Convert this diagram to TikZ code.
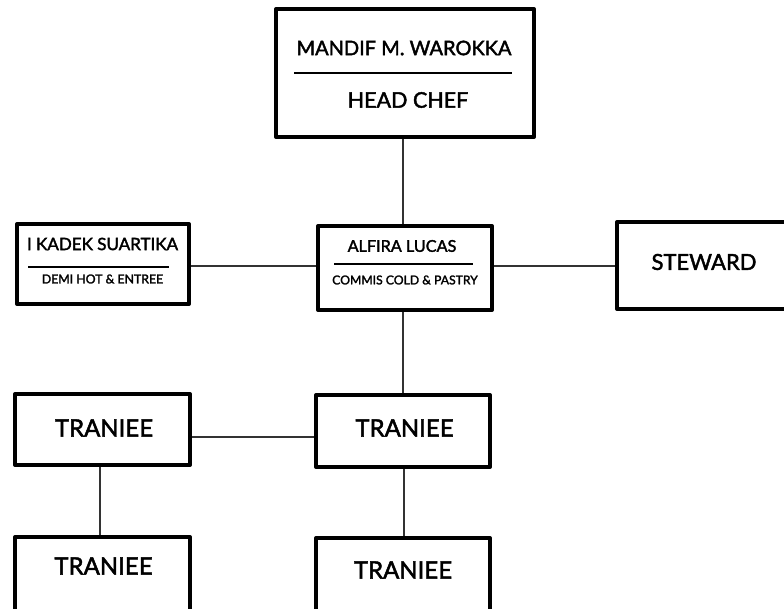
\documentclass[tikz,border=0pt]{standalone}
\usepackage{fontspec}
\setmainfont{Lato}[UprightFeatures={FakeBold=2}]
\begin{document}
\begin{tikzpicture}[x=1pt,y=-1pt,
  box/.style={draw=black,line width=4pt,line join=round,fill=white},
  conn/.style={draw=black!80,line width=1.8pt},
  sep/.style={draw=black,line width=2.2pt},
  txt/.style={inner sep=0pt,anchor=center,text=black}]
\clip (0,0) rectangle (784,609);
\fill[white] (0,0) rectangle (784,609);
% connectors
\coordinate (hcB) at (403,137);
\coordinate (alT) at (403,226);
\coordinate (kdR) at (189,266);
\coordinate (alL) at (318,266);
\coordinate (alR) at (492,266);
\coordinate (stL) at (617,266);
\coordinate (alB) at (403,310);
\coordinate (t2T) at (403,396);
\coordinate (t1R) at (190,437);
\coordinate (t2L) at (316,437);
\coordinate (t1B) at (100,465);
\coordinate (t3T) at (100,537);
\coordinate (t2B) at (404,467);
\coordinate (t4T) at (404,538);
\draw[conn] (hcB) -- (alT);
\draw[conn] (kdR) -- (alL);
\draw[conn] (alR) -- (stL);
\draw[conn] (alB) -- (t2T);
\draw[conn] (t1R) -- (t2L);
\draw[conn] (t1B) -- (t3T);
\draw[conn] (t2B) -- (t4T);
% boxes
\draw[box] (276,9) rectangle (534,137);
\node[txt,font=\fontsize{20}{22}\selectfont] (hcname) at (404,48) {MANDIF M. WAROKKA};
\draw[sep] (294,73) -- (512,73);
\node[txt,font=\fontsize{21.5}{23}\selectfont] (hcrole) at (408,100) {HEAD CHEF};

\draw[box] (17,224) rectangle (189,304);
\node[txt,font=\fontsize{17}{19}\selectfont] (kdname) at (102.5,244) {I KADEK SUARTIKA};
\draw[sep] (28,267) -- (169,267);
\node[txt,font=\fontsize{12.3}{14}\selectfont] (kdrole) at (102.5,279) {DEMI HOT \& ENTREE};

\draw[box] (318,226) rectangle (492,310);
\node[txt,font=\fontsize{16.2}{18}\selectfont] (alname) at (402,246) {ALFIRA LUCAS};
\draw[sep] (334,264) -- (473,264);
\node[txt,font=\fontsize{12.2}{14}\selectfont] (alrole) at (405,280) {COMMIS COLD \& PASTRY};

\draw[box] (617,222) rectangle (800,309);
\node[txt,font=\fontsize{22}{24}\selectfont] (st) at (704,262) {STEWARD};

\draw[box] (15,394) rectangle (190,465);
\node[txt,font=\fontsize{24}{26}\selectfont] (t1) at (104,428) {TRANIEE};
\draw[box] (316,395) rectangle (490,467);
\node[txt,font=\fontsize{24}{26}\selectfont] (t2) at (404.5,428) {TRANIEE};
\draw[box] (15,537) rectangle (190,625);
\node[txt,font=\fontsize{24}{26}\selectfont] (t3) at (103.5,566) {TRANIEE};
\draw[box] (316,538) rectangle (490,625);
\node[txt,font=\fontsize{24}{26}\selectfont] (t4) at (403,570) {TRANIEE};
\end{tikzpicture}
\end{document}
